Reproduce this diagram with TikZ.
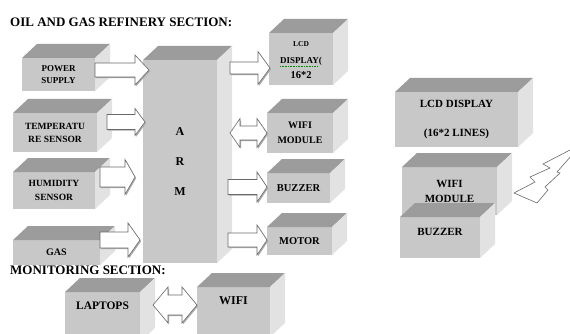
\documentclass[tikz,border=0pt]{standalone}
\usepackage{fontspec}
\setmainfont{Liberation Serif}
\usetikzlibrary{calc}

\definecolor{facefront}{RGB}{200,200,200}
\definecolor{facetop}{RGB}{156,156,156}
\definecolor{faceside}{RGB}{226,226,226}
\definecolor{arrowline}{RGB}{105,105,105}

\newcommand\boxfont[2]{\bfseries\fontsize{#1}{#2}\selectfont}
\newcommand\lift[2]{\raisebox{#1}[0pt][0pt]{#2}}
\newcommand\stackline[2]{\makebox[0pt]{\raisebox{#1}[0pt][0pt]{#2}}}

\tikzset{
  front/.style={fill=facefront, inner sep=1pt, outer sep=0pt, align=center,
    anchor=north west, font=\boxfont{10}{12}},
  heading/.style={anchor=west, inner sep=0pt, font=\boxfont{13}{15}},
  blockarrow/.style={fill=white, draw=arrowline, line width=0.6pt,
    preaction={fill=arrowline!55, transform canvas={shift={(1.2pt,-1.2pt)}}}},
  bolt/.style={fill=white, draw=arrowline, line width=0.6pt},
}

% box with top and side faces
\newcommand\cube[6][]{%
  \node[front, minimum width=#4, minimum height=#5, #1] (#2) at #3 {#6};
  \fill[facetop] (#2.north west) -- ++(15pt,14pt) -- ($(#2.north east)+(15pt,14pt)$) -- (#2.north east) -- cycle;
  \fill[faceside] (#2.north east) -- ++(15pt,14pt) -- ($(#2.south east)+(15pt,14pt)$) -- (#2.south east) -- cycle;
}
% tail, tip, shaft half, head half, head length
\newcommand\fatarrow[5]{%
  \draw[blockarrow] let \p1=#1, \p2=#2 in
    (\x1,\y1+#3) -- (\x2-#5,\y1+#3) -- (\x2-#5,\y1+#4) -- (\x2,\y1)
    -- (\x2-#5,\y1-#4) -- (\x2-#5,\y1-#3) -- (\x1,\y1-#3) -- cycle;
}
\newcommand\fatdarrow[5]{%
  \draw[blockarrow] let \p1=#1, \p2=#2 in
    (\x1,\y1) -- (\x1+#5,\y1+#4) -- (\x1+#5,\y1+#3) -- (\x2-#5,\y1+#3)
    -- (\x2-#5,\y1+#4) -- (\x2,\y1) -- (\x2-#5,\y1-#4) -- (\x2-#5,\y1-#3)
    -- (\x1+#5,\y1-#3) -- (\x1+#5,\y1-#4) -- cycle;
}

\begin{document}
\begin{tikzpicture}[x=1pt,y=-1pt]
\useasboundingbox (0,0) rectangle (570,334);
\clip (0,0) rectangle (570,334);
\fill[white] (0,0) rectangle (570,334);

\node[heading] (refinery) at (10,22) {OIL AND GAS REFINERY SECTION:};

\cube[font=\boxfont{9}{12}]{power}{(22,58)}{73}{33}{POWER\\SUPPLY}
\cube[font=\boxfont{9.5}{13}]{temp}{(13,113)}{84}{39}{TEMPERATU\\RE SENSOR}
\cube[font=\boxfont{9.5}{14}]{humid}{(13,172)}{82}{37}{HUMIDITY\\SENSOR}
\cube{gas}{(13,240)}{87}{25}{GAS}
\cube[font=\boxfont{12}{14}]{arm}{(143,60)}{74}{203}{A\\[16pt]R\\[16pt]M}

\cube{lcd}{(269,33)}{64}{52}{\stackline{12pt}{\boxfont{7.5}{9}LCD}\stackline{-5pt}{\boxfont{9}{10}DISPLAY(}\stackline{-19.5pt}{\boxfont{10.5}{12}16*2}}
\draw[green!55!black, densely dotted, line width=0.6pt] ($(lcd.center)+(-21,7)$) -- ($(lcd.center)+(17,7)$);
\cube[font=\boxfont{10}{15}]{wifi}{(267,113)}{66}{40}{WIFI\\MODULE}
\cube[font=\boxfont{10.5}{12}]{buzzer}{(267,173)}{63}{30}{BUZZER}
\cube[font=\boxfont{10.5}{12}]{motor}{(267,227)}{65}{28}{MOTOR}

\fatarrow{($(power.east)+(0,-4.5)$)}{($(arm.west)+(6,0)$)}{7pt}{15pt}{14pt}
\fatarrow{($(temp.east)+(10,-10.5)$)}{($(arm.west)+(2,0)$)}{7.5pt}{13.5pt}{10pt}
\fatarrow{($(humid.east)+(5,-13.5)$)}{($(arm.west)+(-8,0)$)}{10pt}{17.5pt}{10pt}
\fatarrow{($(gas.east)+(0,-12.5)$)}{($(arm.west)+(-3,0)$)}{8pt}{17pt}{12pt}
\fatarrow{($(arm.east |- lcd.west)+(13,9)$)}{($(lcd.west)+(1,0)$)}{6pt}{16.5pt}{12pt}
\fatdarrow{($(arm.east |- wifi.west)+(13,0)$)}{(wifi.west)}{7pt}{14.5pt}{10pt}
\fatarrow{($(arm.east |- buzzer.west)+(11,-1)$)}{(buzzer.west)}{7.5pt}{15pt}{10pt}
\fatarrow{($(arm.east |- motor.west)+(11,-1)$)}{(motor.west)}{7pt}{15pt}{10pt}

\node[heading] (monitoring) at (10,270) {MONITORING SECTION:};

\cube[font=\boxfont{11.5}{14}]{laptops}{(65,292)}{75}{50}{\lift{8pt}{LAPTOPS}}
\cube[font=\boxfont{12}{14}]{net}{(197,287)}{73}{50}{\lift{8pt}{WIFI}}
\fatdarrow{($(laptops.east)+(13,-12)$)}{(net.west)}{10pt}{18pt}{15pt}

\cube[font=\boxfont{11}{13}]{biglcd}{(395,92)}{123}{55}{LCD DISPLAY\\[16pt](16*2 LINES)}
\cube[font=\boxfont{11}{15}]{bigwifi}{(402,167)}{95}{48}{WIFI\\MODULE}
\cube[font=\boxfont{11}{13}]{bigbuzzer}{(400,217)}{80}{41}{\lift{2pt}{BUZZER}}

\draw[bolt] (570,150) -- (543,164) -- (550,168) -- (530,177) -- (535,182) -- (514,193)
  -- (537,203) -- (548,190) -- (545,187) -- (560,173) -- (557,172) -- (572,155) -- cycle;
\end{tikzpicture}
\end{document}
